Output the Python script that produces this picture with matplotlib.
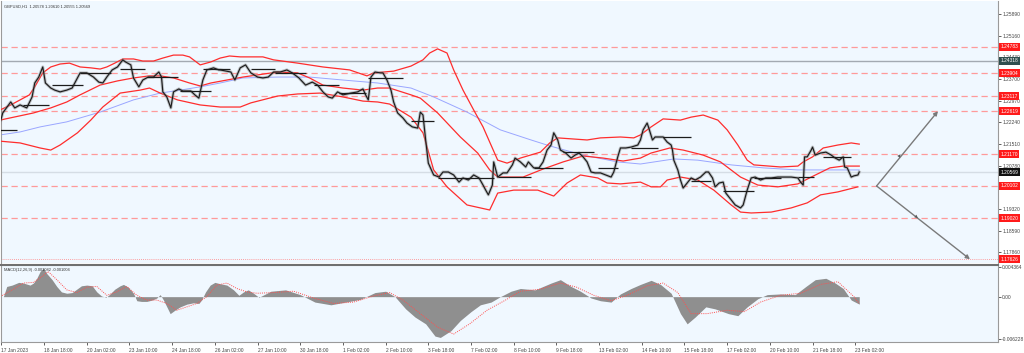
import numpy as np
import matplotlib
matplotlib.use("Agg")
import matplotlib.pyplot as plt
from matplotlib.transforms import blended_transform_factory

# %%
# Price path (H1 bar index, close)
close_bar = [0, 2, 8, 11, 15, 20, 24, 26, 29, 32, 34, 38, 41, 45, 50, 54, 56, 60, 65, 70,
             74, 77, 80, 84, 88, 92, 94, 98, 100, 104, 107, 111, 115, 119, 121, 122, 125, 128, 130, 134,
             137, 143, 146, 149, 152, 155, 160, 164, 165, 173, 176, 180, 184, 188, 193, 197, 201, 205,
             210, 215, 219, 224, 229, 234, 238, 242, 246, 249, 253, 257, 263, 268, 272, 274, 276, 278,
             281, 285, 287, 290, 293, 295, 298, 302, 305, 309, 313, 315, 317, 319, 321,
             325, 329, 332, 336, 340, 344, 347, 351, 355, 359, 362, 364, 366, 369, 370, 373, 377, 380,
             384, 386, 390, 394, 396, 400, 404, 407, 410, 413, 415, 418, 420, 424, 428, 431, 434, 437,
             440, 443, 446, 450, 454, 458, 460, 463, 465, 469, 473,
             478, 480, 482, 485, 486, 489, 491, 495, 497, 500, 503, 504, 505, 508, 510, 512, 515, 518,
             521, 525, 529, 531, 534, 536, 539, 542, 544, 548, 551, 555, 557, 560, 563, 566, 570, 574,
             578, 583, 587, 593, 598, 600, 602, 603, 605, 608, 609, 611, 615, 619, 623, 626, 629, 632,
             633, 635, 638, 640, 643, 644]
close_price = [1.2222, 1.2256, 1.2293, 1.2273, 1.2283, 1.2273, 1.2310, 1.2357, 1.2377, 1.2411,
               1.2357, 1.2340, 1.2333, 1.2327, 1.2333, 1.2340, 1.2357, 1.2391, 1.2391, 1.2377,
               1.2360, 1.2357, 1.2377, 1.2401, 1.2411, 1.2435, 1.2428, 1.2418, 1.2374, 1.2344,
               1.2367, 1.2377, 1.2377, 1.2394, 1.2377, 1.2327, 1.2310, 1.2273, 1.2327, 1.2337,
               1.2330, 1.2330, 1.2317, 1.2306, 1.2367, 1.2401, 1.2408, 1.2401, 1.2401, 1.2394,
               1.2367, 1.2408, 1.2418, 1.2391, 1.2377, 1.2374, 1.2377, 1.2394, 1.2394, 1.2401,
               1.2391, 1.2374, 1.2350, 1.2360, 1.2350, 1.2327, 1.2310, 1.2306, 1.2327, 1.2317,
               1.2323, 1.2327, 1.2337, 1.2317, 1.2300, 1.2377, 1.2394, 1.2391, 1.2391, 1.2367,
               1.2333, 1.2293, 1.2256, 1.2239, 1.2222, 1.2209, 1.2205, 1.2259, 1.2249, 1.2165,
               1.2087,
               1.2047, 1.2040, 1.2057, 1.2057, 1.2047, 1.2023, 1.2037, 1.2030, 1.2047, 1.2037,
               1.2013, 1.1996, 1.1980, 1.2013, 1.2091, 1.2040, 1.2054, 1.2054, 1.2081, 1.2104,
               1.2091, 1.2074, 1.2091, 1.2071, 1.2071, 1.2091, 1.2131, 1.2148, 1.2189, 1.2165,
               1.2131, 1.2121, 1.2104, 1.2114, 1.2121, 1.2108, 1.2091, 1.2057, 1.2054, 1.2054,
               1.2047, 1.2040, 1.2057, 1.2108, 1.2138, 1.2138, 1.2141,
               1.2148, 1.2165, 1.2199, 1.2222, 1.2209, 1.2165, 1.2175, 1.2175, 1.2175, 1.2158,
               1.2148, 1.2131, 1.2097, 1.2064, 1.2030, 1.2003, 1.2020, 1.2037, 1.2030, 1.2040,
               1.2057, 1.2057, 1.2037, 1.2007, 1.2020, 1.2023, 1.1986, 1.1963, 1.1946, 1.1936,
               1.1946, 1.1996, 1.2037, 1.2040, 1.2030, 1.2037, 1.2037, 1.2040, 1.2040, 1.2040,
               1.2037, 1.2023, 1.2013, 1.2108, 1.2108, 1.2131, 1.2141, 1.2114, 1.2121, 1.2124,
               1.2114, 1.2104, 1.2097, 1.2108, 1.2074, 1.2071, 1.2040, 1.2044, 1.2047, 1.2057]

# Bollinger bands (upper / middle / lower)
bb_up_bar = [0, 8, 15, 22, 26, 32, 38, 45, 52, 60, 68, 75, 80, 86, 92, 100, 107, 115, 122, 130,
             137, 142, 150, 158, 165, 172, 180, 197, 205, 223, 242, 262, 275, 280, 295, 308, 317, 322,
             328, 335, 340, 347, 355, 362, 367, 373, 380, 390, 405, 412, 418, 440, 450, 465, 475, 480,
             488, 497, 510, 518, 527, 538, 545, 553, 560, 565, 585, 598, 602, 609, 617, 628, 638, 644]
bb_up = [1.2266, 1.2283, 1.2300, 1.2317, 1.2344, 1.2391, 1.2411, 1.2421, 1.2424, 1.2411, 1.2408,
         1.2404, 1.2411, 1.2424, 1.2438, 1.2438, 1.2431, 1.2431, 1.2441, 1.2451, 1.2451, 1.2445,
         1.2418, 1.2428, 1.2441, 1.2448, 1.2445, 1.2445, 1.2435, 1.2424, 1.2411, 1.2401, 1.2381,
         1.2391, 1.2397, 1.2414, 1.2435, 1.2458, 1.2472, 1.2458, 1.2401, 1.2333, 1.2266, 1.2209,
         1.2158, 1.2097, 1.2087, 1.2104, 1.2124, 1.2155, 1.2172, 1.2165, 1.2172, 1.2175, 1.2172,
         1.2182, 1.2209, 1.2236, 1.2232, 1.2242, 1.2249, 1.2232, 1.2199, 1.2148, 1.2097, 1.2081,
         1.2074, 1.2077, 1.2091, 1.2108, 1.2138, 1.2148, 1.2155, 1.2151]
bb_mid_bar = [0, 25, 38, 50, 60, 75, 88, 100, 112, 120, 130, 142, 150, 158, 182, 208, 223, 232, 242,
              257, 272, 283, 292, 308, 315, 328, 345, 358, 367, 373, 392, 407, 422, 437, 452, 467,
              480, 488, 502, 512, 527, 540, 555, 568, 583, 598, 608, 622, 632, 644]
bb_mid = [1.2232, 1.2256, 1.2273, 1.2293, 1.2317, 1.2350, 1.2364, 1.2374, 1.2381, 1.2381, 1.2374,
          1.2357, 1.2347, 1.2357, 1.2377, 1.2394, 1.2391, 1.2374, 1.2350, 1.2340, 1.2333, 1.2340,
          1.2340, 1.2317, 1.2306, 1.2256, 1.2175, 1.2121, 1.2064, 1.2040, 1.2040, 1.2067, 1.2091,
          1.2111, 1.2104, 1.2094, 1.2104, 1.2121, 1.2138, 1.2131, 1.2114, 1.2091, 1.2040, 1.2013,
          1.2007, 1.2017, 1.2040, 1.2071, 1.2077, 1.2077]
bb_low_bar = [0, 15, 30, 38, 45, 58, 68, 77, 90, 105, 112, 120, 133, 150, 165, 180, 188, 208, 223,
              240, 257, 272, 283, 292, 308, 317, 325, 335, 350, 367, 373, 385, 403, 415, 425, 435,
              448, 455, 465, 480, 488, 495, 500, 510, 523, 535, 548, 555, 563, 578, 593, 605, 615,
              628, 643]
bb_low = [1.2161, 1.2155, 1.2138, 1.2131, 1.2148, 1.2189, 1.2232, 1.2276, 1.2323, 1.2333, 1.2340,
          1.2323, 1.2300, 1.2283, 1.2276, 1.2276, 1.2290, 1.2313, 1.2320, 1.2323, 1.2310, 1.2296,
          1.2293, 1.2286, 1.2242, 1.2189, 1.2064, 1.2007, 1.1946, 1.1929, 1.1986, 1.1996, 1.1996,
          1.1976, 1.2020, 1.2047, 1.2037, 1.2020, 1.2017, 1.2023, 1.2007, 1.2007, 1.2030, 1.2040,
          1.2030, 1.1996, 1.1946, 1.1922, 1.1919, 1.1922, 1.1936, 1.1953, 1.1980, 1.1990, 1.2007]

# Slow moving average (blue)
ma_bar = [0, 15, 30, 50, 75, 100, 120, 135, 150, 165, 182, 208, 232, 257, 283, 308, 325, 350, 375,
          398, 412, 437, 463, 480, 505, 523, 548, 572, 598, 622, 644]
ma = [1.2182, 1.2192, 1.2209, 1.2226, 1.2259, 1.2300, 1.2323, 1.2333, 1.2344, 1.2357, 1.2374,
      1.2377, 1.2377, 1.2367, 1.2357, 1.2340, 1.2310, 1.2259, 1.2199, 1.2165, 1.2145, 1.2114,
      1.2091, 1.2084, 1.2101, 1.2097, 1.2081, 1.2071, 1.2064, 1.2064, 1.2064]

# Daily reference segments (start bar, end bar, price)
seg_start = [0, 17, 39, 60, 90, 110, 135, 152, 188, 206, 235, 254, 276, 308, 328, 373, 400, 422,
             448, 473, 497, 518, 542, 565, 598, 617]
seg_end = [13, 37, 62, 83, 109, 133, 158, 172, 206, 229, 254, 274, 302, 325, 370, 398, 422, 445,
           463, 493, 518, 533, 565, 585, 610, 638]
seg_price = [1.2199, 1.2283, 1.2350, 1.2391, 1.2404, 1.2377, 1.2330, 1.2404, 1.2404, 1.2391,
             1.2350, 1.2323, 1.2374, 1.2229, 1.2037, 1.2040, 1.2071, 1.2124, 1.2071, 1.2138,
             1.2175, 1.2027, 1.1993, 1.2037, 1.2040, 1.2108]

# Horizontal levels
red_levels = [1.24783, 1.23904, 1.23117, 1.22619, 1.21170, 1.20102, 1.19020]
target_low = 1.17626
grey_level = 1.24318
last_price = 1.20569
scale_levels = [1.25890, 1.25160, 1.24430, 1.23700, 1.22970, 1.22240, 1.21510, 1.20780,
                1.20050, 1.19320, 1.18590, 1.17860]

# Projection arrows
arrow_origin = (657, 1.2010)
up_path = [(675, 1.2117), (703, 1.2262)]
down_path = [(688, 1.1902), (727, 1.1763)]

# MACD histogram and signal
macd_bar = [0, 2.5, 5, 9, 14, 17.5, 22.5, 25, 27.5, 30, 32.5, 35, 39, 42.5, 46, 50, 54, 57.5, 61,
            65, 69, 72.5, 76, 79.5, 82.5, 86, 90, 92.5, 96, 100, 102.5, 106, 110, 114, 117.5, 120,
            122.5, 125, 127.5, 131, 135, 140, 145, 149, 151, 154, 157.5, 161, 165, 170, 175, 179,
            182.5, 186, 190, 194, 203, 214, 225, 236, 248, 259, 270, 281, 289, 296, 304, 311, 319,
            326, 330, 338, 345, 353, 360, 368, 375, 383, 390, 401, 413, 420, 428, 435, 443, 450,
            458, 465, 473, 480, 488, 495, 503, 510, 515, 521, 529, 536, 546, 553, 560, 568, 575,
            585, 596, 604, 611, 619, 626, 632, 638, 644]
macd = [0.0, 0.0, 0.0015, 0.0017, 0.0021, 0.0020, 0.0017, 0.0020, 0.0027, 0.0037, 0.0042, 0.0034,
        0.0025, 0.0015, 0.0007, 0.0005, 0.0006, 0.0011, 0.0016, 0.0017, 0.0016, 0.0007, 0.0001,
        -0.0001, 0.0004, 0.0011, 0.0016, 0.0018, 0.0014, 0.0005, -0.0006, -0.0007, -0.0007,
        -0.0005, -0.0002, 0.0003, -0.0005, -0.0015, -0.0025, -0.0020, -0.0015, -0.0011, -0.0009,
        -0.0010, -0.0005, 0.0007, 0.0017, 0.0021, 0.0019, 0.0017, 0.0010, 0.0002, 0.0007, 0.0010,
        0.0005, -0.0001, 0.0008, 0.0010, 0.0003, -0.0008, -0.0012, -0.0008, -0.0004, 0.0006,
        0.0008, 0.0000, -0.0018, -0.0030, -0.0040, -0.0058, -0.0060, -0.0050, -0.0035, -0.0022,
        -0.0012, -0.0008, 0.0000, 0.0008, 0.0012, 0.0010, 0.0020, 0.0025, 0.0015, 0.0008, -0.0002,
        -0.0006, -0.0008, 0.0004, 0.0012, 0.0018, 0.0024, 0.0018, 0.0005, -0.0025, -0.0040,
        -0.0030, -0.0015, -0.0018, -0.0025, -0.0028, -0.0015, -0.0003, 0.0003, 0.0004, 0.0003,
        0.0015, 0.0025, 0.0027, 0.0020, 0.0012, -0.0005, -0.0011]
signal_bar = [0, 10, 17.5, 25, 31, 36, 42.5, 50, 57.5, 65, 72.5, 80, 87.5, 95, 102.5, 110, 117.5,
              125, 132.5, 140, 147.5, 155, 162.5, 170, 177.5, 185, 192.5, 205, 220, 235, 250, 265,
              280, 292, 302, 315, 328, 340, 352, 365, 378, 390, 405, 420, 432, 445, 458, 470, 485,
              497, 508, 518, 530, 545, 558, 570, 585, 600, 615, 628, 640, 644]
signal = [0.0, 0.0011, 0.0020, 0.0021, 0.0029, 0.0037, 0.0025, 0.0010, 0.0006, 0.0014, 0.0015,
          0.0002, 0.0007, 0.0015, 0.0002, -0.0005, -0.0005, -0.0010, -0.0020, -0.0015, -0.0010,
          0.0000, 0.0017, 0.0020, 0.0012, 0.0007, 0.0005, 0.0006, 0.0008, -0.0002, -0.0010,
          -0.0008, 0.0001, 0.0006, -0.0005, -0.0025, -0.0045, -0.0055, -0.0040, -0.0020, -0.0006,
          0.0008, 0.0011, 0.0020, 0.0014, 0.0002, -0.0006, 0.0002, 0.0016, 0.0020, 0.0006,
          -0.0025, -0.0025, -0.0020, -0.0022, -0.0008, 0.0002, 0.0005, 0.0018, 0.0022, 0.0000,
          -0.0010]
macd_levels = [0.004364, 0.0, -0.006228]
macd_level_labels = ['0.004364', '0.00', '-0.006228']

# Time axis
tick_bars = [1 + 32 * i for i in range(21)]
tick_labels = ['17 Jan 2023', '18 Jan 18:00', '20 Jan 02:00', '23 Jan 10:00', '24 Jan 18:00',
               '26 Jan 02:00', '27 Jan 10:00', '30 Jan 18:00', '1 Feb 02:00', '2 Feb 10:00',
               '3 Feb 18:00', '7 Feb 02:00', '8 Feb 10:00', '9 Feb 18:00', '13 Feb 02:00',
               '14 Feb 10:00', '15 Feb 18:00', '17 Feb 02:00', '20 Feb 10:00', '21 Feb 18:00',
               '23 Feb 02:00']

# %%
bg = '#f0f8ff'
fs = 3.5      # scale / time labels
fs_hdr = 2.9  # panel headers
plt.rcParams['font.family'] = ['Liberation Sans', 'DejaVu Sans']

fig = plt.figure(figsize=(10.24, 3.53), dpi=100, facecolor='white')
ax = fig.add_axes([1 / 1024, 1 - 263 / 353, 997 / 1024, 262 / 353], facecolor=bg)
ax2 = fig.add_axes([1 / 1024, 1 - 342 / 353, 997 / 1024, 77.5 / 353], facecolor=bg, sharex=ax)

ax.set_xlim(0.7, 748)
ax.set_ylim(1.17504, 1.26333)
ax2.set_ylim(-0.00667, 0.00473)

# Levels
for lv in red_levels:
    ax.axhline(lv, color='#ff9a9a', lw=0.9, dashes=(5, 3), zorder=1)
ax.axhline(target_low, color='#ff8080', lw=0.6, ls=(0, (1, 1.5)), zorder=1)
ax.axhline(grey_level, color='#a3aab2', lw=1.0, zorder=1)
ax.axhline(last_price, color='#d5dde5', lw=1.0, zorder=1)

# Indicators
ax.plot(ma_bar, ma, color='#9aa6ff', lw=0.7, zorder=2)
for xs, ys in [(bb_up_bar, bb_up), (bb_mid_bar, bb_mid), (bb_low_bar, bb_low)]:
    ax.plot(xs, ys, color='#ff2d2d', lw=0.9, zorder=3)

# Price
ax.plot(close_bar, close_price, color='#8a8a8a', lw=2.2, alpha=0.5, zorder=4)
ax.plot(close_bar, close_price, color='#1c1c1c', lw=0.85, zorder=5)
ax.hlines(seg_price, seg_start, seg_end, color='#1c1c1c', lw=0.9, zorder=5)

# Projection arrows
arrow_kw = dict(arrowstyle='-|>', color='#7a7a7a', lw=1.0, mutation_scale=6, shrinkA=0, shrinkB=0)
for path in (up_path, down_path):
    ax.annotate('', xy=path[-1], xytext=arrow_origin, arrowprops=arrow_kw, zorder=6)
    ax.annotate('', xy=path[0], xytext=arrow_origin,
                arrowprops=dict(arrow_kw, color='#5a5a5a', lw=0.0), zorder=6)

# Header text
ax.text(0.003, 0.988, 'GBPUSD,H1  1.20578 1.20610 1.20555 1.20569', transform=ax.transAxes,
        fontsize=fs_hdr, color='#333333', va='top', ha='left')

# Price scale
ax.yaxis.tick_right()
ax.set_yticks(scale_levels)
ax.set_yticklabels([f'{v:.5f}' for v in scale_levels])
ax.tick_params(axis='y', length=2, width=0.6, pad=1, labelsize=fs, colors='#444444')
ax.tick_params(axis='x', bottom=False, labelbottom=False)

tr = blended_transform_factory(ax.transAxes, ax.transData)
box_kw = dict(transform=tr, fontsize=fs, color='white', va='center', ha='left',
              clip_on=False, zorder=20)
for lv in red_levels + [target_low]:
    ax.text(1.0025, lv, f'{lv:.5f}', bbox=dict(boxstyle='square,pad=0.3', fc='#ff1a1a', ec='none'),
            **box_kw)
ax.text(1.0025, grey_level, f'{grey_level:.5f}',
        bbox=dict(boxstyle='square,pad=0.3', fc='#2f4f4f', ec='none'), **box_kw)
ax.text(1.0025, last_price, f'{last_price:.5f}',
        bbox=dict(boxstyle='square,pad=0.3', fc='#111111', ec='none'), **box_kw)

# MACD
ax2.fill_between(macd_bar, macd, 0, color='#8f8f8f', lw=0, zorder=2)
ax2.plot(signal_bar, signal, color='#ff5050', lw=0.7, ls=(0, (1, 1.2)), zorder=3)
ax2.text(0.003, 0.955, 'MACD(12,26,9) -0.001082 -0.001004', transform=ax2.transAxes,
         fontsize=fs_hdr, color='#333333', va='top', ha='left')
ax2.yaxis.tick_right()
ax2.set_yticks(macd_levels)
ax2.set_yticklabels(macd_level_labels)
ax2.tick_params(axis='y', length=2, width=0.6, pad=1, labelsize=fs, colors='#444444')
ax2.set_xticks(tick_bars)
ax2.set_xticklabels(tick_labels, ha='left')
ax2.tick_params(axis='x', length=2.5, width=0.6, pad=1.5, labelsize=fs, colors='#444444')

# Frames
for a in (ax, ax2):
    for side in ('left', 'right', 'top', 'bottom'):
        a.spines[side].set_color('#9a9a9a')
        a.spines[side].set_linewidth(0.8)
ax.spines['top'].set_visible(False)
ax.spines['bottom'].set_visible(False)
ax2.spines['top'].set_color('#707070')
ax2.spines['top'].set_linewidth(1.5)

plt.savefig('out.png', dpi=100, facecolor='white')
